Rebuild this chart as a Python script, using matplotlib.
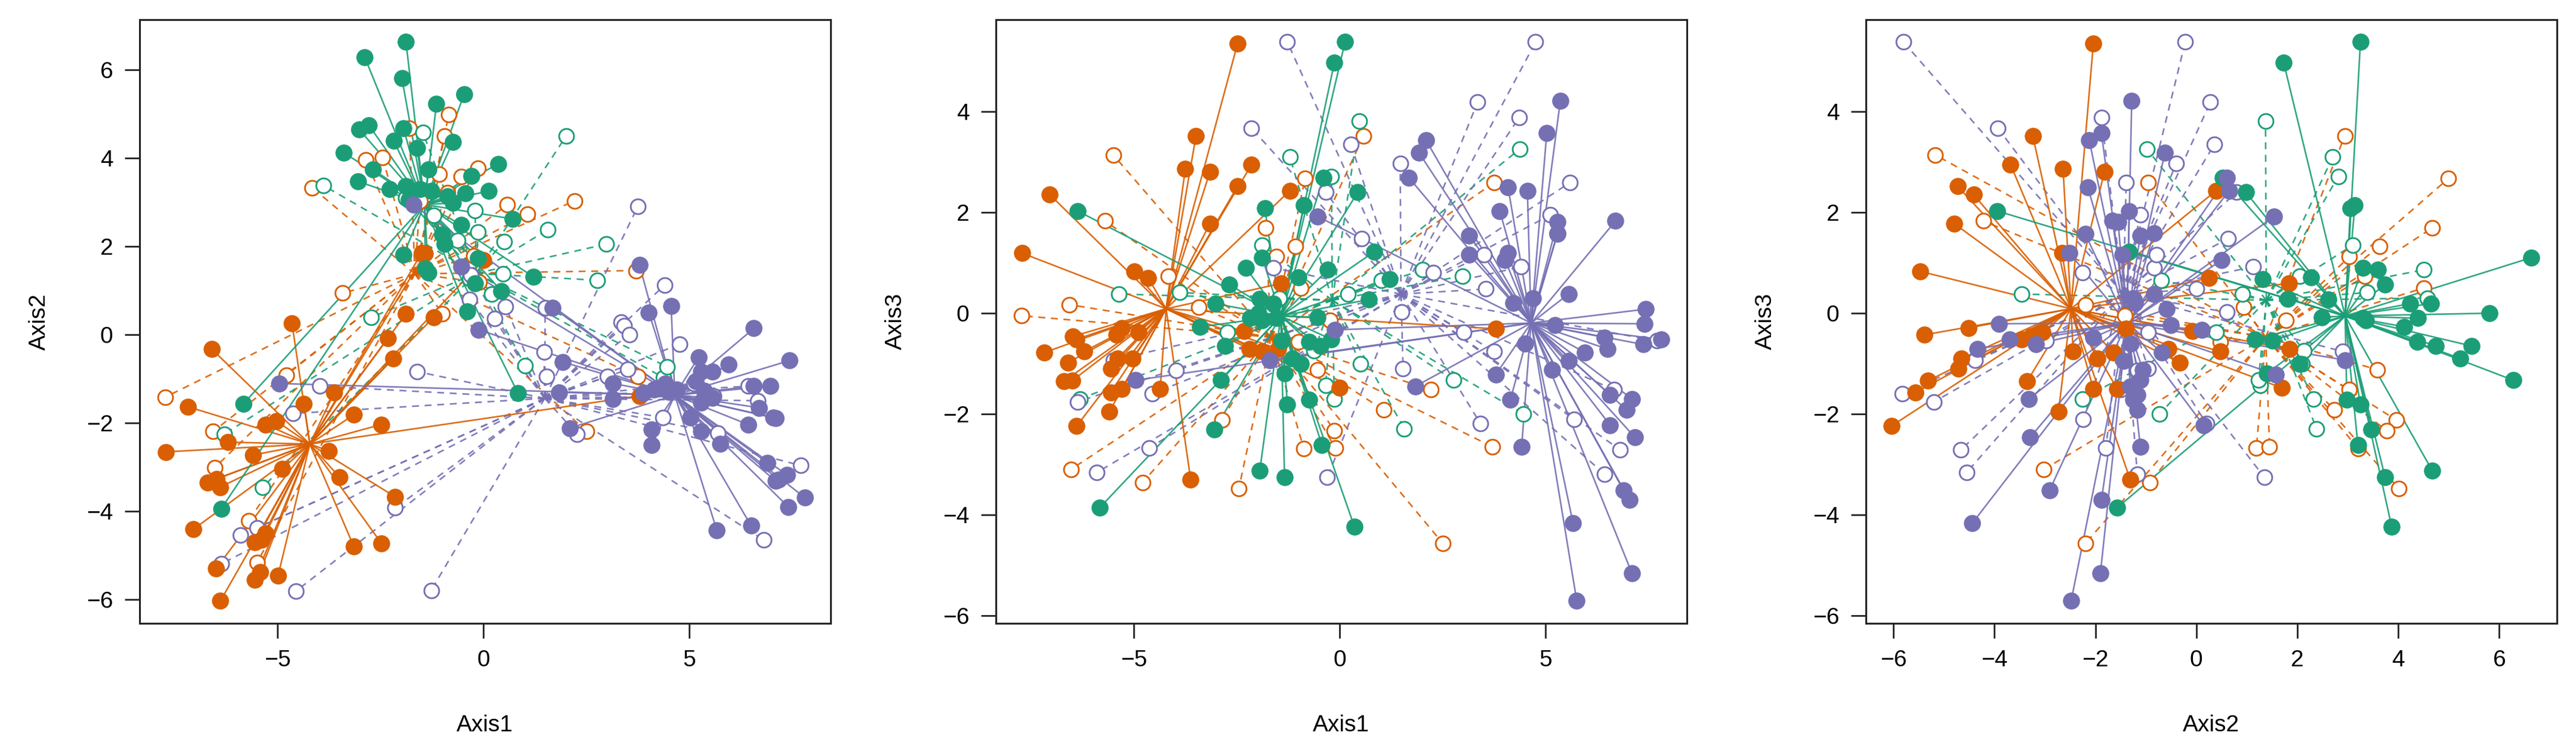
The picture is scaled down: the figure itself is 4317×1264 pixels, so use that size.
import numpy as np
import matplotlib.pyplot as plt

plt.rcParams["font.family"] = ["Liberation Sans", "DejaVu Sans"]

# group colours (Dark2)
col_orange = "#d95f02"
col_green = "#1b9e77"
col_purple = "#7570b3"

# ---- ordination scores, filled points (solid spider lines) ----
orange_filled_ax1 = [-7.71, -7.17, -7.04, -6.70, -6.60, -6.50, -6.48, -6.40, -6.39, -6.21,
                     -5.59, -5.56, -5.56, -5.43, -5.40, -5.29, -5.29, -5.03, -4.99, -4.89,
                     -4.65, -4.36, -3.75, -3.62, -3.49, -3.15, -3.15, -2.48, -2.48, -2.32,
                     -2.19, -2.14, -1.88, -1.50, -1.42, -1.21, 0.00, 3.79]
orange_filled_ax2 = [-2.66, -1.64, -4.41, -3.35, -0.33, -5.31, -3.27, -3.46, -6.04, -2.44,
                     -2.73, -4.71, -5.56, -5.39, -4.65, -4.51, -2.04, -1.96, -5.47, -3.05,
                     0.25, -1.57, -2.64, -1.31, -3.24, -1.82, -4.80, -2.04, -4.73, -0.08,
                     -0.55, -3.68, 0.47, 1.85, 1.83, 0.39, 1.69, -1.39]
orange_filled_ax3 = [1.19, -0.78, 2.35, -1.35, -0.98, -1.34, -0.46, -0.52, -2.24, -0.76,
                     -1.95, -1.10, -1.57, -0.43, -0.90, -0.29, -1.50, -0.90, 0.83, -0.38,
                     0.70, -1.50, 2.86, -3.30, 3.52, 2.81, 1.78, 5.35, 2.52, -0.36,
                     -0.71, 2.95, -0.76, -0.71, 0.59, 2.43, -1.48, -0.31]

green_filled_ax1 = [-6.37, -5.83, -3.39, -3.04, -3.02, -2.88, -2.78, -2.68, -2.28, -2.18,
                    -1.98, -1.94, -1.94, -1.88, -1.88, -1.82, -1.61, -1.54, -1.41, -1.34,
                    -1.34, -1.27, -1.14, -1.00, -0.94, -0.87, -0.74, -0.74, -0.54, -0.47,
                    -0.43, -0.40, -0.29, -0.20, -0.13, 0.13, 0.36, 0.44, 0.71, 0.84, 1.21]
green_filled_ax2 = [-3.95, -1.57, 4.12, 3.47, 4.65, 6.28, 4.74, 3.74, 3.30, 4.39,
                    5.81, 4.67, 1.81, 6.63, 3.36, 3.05, 4.23, 3.30, 1.50, 1.40,
                    3.74, 3.25, 5.23, 2.27, 2.05, 3.14, 4.37, 2.98, 2.49, 5.45,
                    3.20, 0.52, 3.60, 1.16, 1.73, 3.25, 3.87, 0.98, 2.62, -1.33, 1.31]
green_filled_ax3 = [2.03, -3.86, -0.27, -2.31, 0.19, -1.33, -0.65, 0.57, 0.90, -0.10,
                    0.00, -3.12, 0.29, 1.10, -0.14, 2.08, 0.19, -0.10, -0.55, -1.19,
                    -3.26, -1.81, -0.90, 0.71, -1.00, 2.14, -0.57, -1.71, -0.08, -0.65,
                    -2.62, 2.69, 0.86, -0.52, 4.97, 5.38, -4.24, 2.40, 0.27, 1.22, 0.67]

purple_filled_ax1 = [-4.96, -1.70, -0.54, -0.12, 1.68, 1.84, 1.92, 2.10, 3.15, 3.15,
                     3.79, 3.89, 4.02, 4.09, 4.09, 4.15, 4.22, 4.42, 4.50, 4.56,
                     4.70, 5.03, 5.16, 5.23, 5.29, 5.29, 5.29, 5.36, 5.56, 5.56,
                     5.67, 5.76, 5.96, 6.43, 6.50, 6.57, 6.57, 6.70, 6.90, 6.97,
                     7.04, 7.10, 7.10, 7.17, 7.37, 7.41, 7.44, 7.81]
purple_filled_ax2 = [-1.11, 2.94, 1.54, 0.11, 0.61, -1.31, -0.62, -2.12, -1.11, -1.46,
                     1.58, -1.33, 0.50, -2.15, -2.51, -1.25, -1.22, -1.11, -1.30, 0.65,
                     -1.25, -1.88, -1.06, -0.51, -0.84, -1.55, -2.20, -1.28, -0.84, -1.44,
                     -4.44, -2.48, -0.68, -2.04, -4.33, 0.14, -1.17, -1.66, -2.91, -1.17,
                     -1.88, -1.90, -3.32, -3.29, -3.18, -3.91, -0.59, -3.70]
purple_filled_ax3 = [-1.33, -0.93, 1.92, -0.33, 2.69, -1.45, 3.19, 3.43, 1.54, 1.16,
                     -1.22, 2.03, 1.05, 2.50, 1.19, -1.71, 0.20, -2.65, -0.60, 2.43,
                     0.30, 3.57, -1.12, -0.24, 1.59, 1.81, 1.57, 4.21, 0.38, -0.95,
                     -4.17, -5.71, -0.78, -0.48, -0.71, -2.22, -1.62, 1.83, -3.52, -1.92,
                     -3.71, -5.16, -1.70, -2.46, -0.62, -0.21, 0.08, -0.52]

# ---- ordination scores, open points (dashed spider lines) ----
orange_open_ax1 = [-7.73, -6.57, -6.53, -5.70, -5.50, -4.79, -4.16, -3.42, -2.86, -2.45,
                   -1.80, -1.54, -1.07, -1.00, -0.94, -0.87, -0.84, -0.54, -0.23, -0.13,
                   -0.11, 0.58, 1.07, 2.21, 2.51, 3.71, 3.75]
orange_open_ax2 = [-1.42, -2.20, -3.02, -4.22, -5.17, -0.92, 3.33, 0.94, 3.96, 4.01,
                   4.67, 3.03, 3.63, 0.47, 4.50, 3.21, 4.99, 3.58, 1.78, 3.77,
                   1.19, 2.94, 2.73, 3.03, -2.20, 1.45, -0.95]
orange_open_ax3 = [-0.05, 0.17, -3.10, 1.83, 3.14, -3.36, 0.73, 0.12, -2.12, -3.48,
                   1.69, 1.12, 1.33, -0.57, 0.50, -2.69, 2.67, -1.12, -0.14, -2.33,
                   -2.67, 3.52, -1.92, -1.52, -4.57, -2.65, 2.59]

green_open_ax1 = [-6.30, -5.36, -3.89, -2.72, -1.88, -1.47, -1.21, -0.62, -0.34, -0.20,
                  -0.13, 0.20, 0.47, 0.50, 1.01, 1.57, 2.01, 2.77, 2.99, 4.38, 4.46]
green_open_ax2 = [-2.26, -3.46, 3.38, 0.39, 3.10, 4.58, 2.70, 2.13, 1.27, 2.81,
                  2.32, 0.91, 1.37, 2.10, -0.70, 2.38, 4.50, 1.23, 2.05, -0.98, -0.73]
green_open_ax3 = [-1.70, 0.38, 0.41, -0.38, 1.35, 0.30, 3.10, -0.75, -1.43, 2.71,
                  -1.70, 0.38, 3.81, -1.00, 0.65, -2.29, 0.86, -1.33, 0.74, 3.26, -2.00]

purple_open_ax1 = [-6.37, -5.90, -5.50, -4.62, -4.56, -3.98, -2.14, -1.61, -1.27, -0.34,
                   -0.30, 0.27, 0.54, 1.47, 1.50, 1.54, 2.28, 3.02, 3.35, 3.42,
                   3.51, 3.55, 3.75, 4.36, 4.40, 4.76, 5.12, 5.59, 5.70, 6.43,
                   6.66, 6.81, 7.71]
purple_open_ax2 = [-5.20, -4.55, -4.38, -1.79, -5.82, -1.17, -3.93, -0.84, -5.80, 0.80,
                   1.35, 0.36, 0.63, -0.40, 0.60, -0.95, -2.26, -0.95, 0.28, 0.20,
                   -0.79, 0.00, 2.90, -1.88, 1.12, -0.22, -1.11, -1.39, -2.24, -1.17,
                   -1.50, -4.66, -2.97]
purple_open_ax3 = [-1.76, -3.16, -0.93, -2.67, -1.60, -1.14, 3.67, 0.90, 5.38, 2.40,
                   -3.26, 3.35, 1.48, 2.97, 0.02, -1.10, 0.81, -0.38, 4.19, -2.19,
                   1.16, 0.48, -0.76, 3.88, 0.92, 5.38, 1.95, 2.59, -2.11, -3.19,
                   -1.52, -2.71, -0.55]

filled = [
    (col_orange, [orange_filled_ax1, orange_filled_ax2, orange_filled_ax3]),
    (col_green, [green_filled_ax1, green_filled_ax2, green_filled_ax3]),
    (col_purple, [purple_filled_ax1, purple_filled_ax2, purple_filled_ax3]),
]
opened = [
    (col_orange, [orange_open_ax1, orange_open_ax2, orange_open_ax3]),
    (col_green, [green_open_ax1, green_open_ax2, green_open_ax3]),
    (col_purple, [purple_open_ax1, purple_open_ax2, purple_open_ax3]),
]

axis_names = ["Axis1", "Axis2", "Axis3"]
panels = [(0, 1), (0, 2), (1, 2)]
lefts = [0.0542, 0.3866, 0.7243]
xticks = {0: [-5, 0, 5], 1: [-6, -4, -2, 0, 2, 4, 6]}
yticks = {1: [-6, -4, -2, 0, 2, 4, 6], 2: [-6, -4, -2, 0, 2, 4]}


def data_range(k):
    vals = []
    for _, arrs in filled + opened:
        vals += list(arrs[k])
    lo, hi = min(vals), max(vals)
    pad = 0.04 * (hi - lo)
    return lo - pad, hi + pad


fig = plt.figure(figsize=(43.17, 12.64), dpi=100)

for p, (i, j) in enumerate(panels):
    ax = fig.add_axes([lefts[p], 0.1733, 0.2682, 0.8006])

    # spider lines from each point to its group centroid
    for col, arrs in opened:
        x = np.array(arrs[i]); y = np.array(arrs[j])
        cx, cy = x.mean(), y.mean()
        for xx, yy in zip(x, y):
            ax.plot([cx, xx], [cy, yy], color=col, lw=1.9, alpha=0.9,
                    dashes=(4.4, 3.6), zorder=1)
    for col, arrs in filled:
        x = np.array(arrs[i]); y = np.array(arrs[j])
        cx, cy = x.mean(), y.mean()
        for xx, yy in zip(x, y):
            ax.plot([cx, xx], [cy, yy], color=col, lw=1.9, alpha=0.9, zorder=2)

    # points
    for col, arrs in opened:
        ax.scatter(arrs[i], arrs[j], s=320, facecolors="white", edgecolors=col,
                   linewidths=2.1, zorder=3)
    for col, arrs in filled:
        ax.scatter(arrs[i], arrs[j], s=390, color=col, edgecolors=col,
                   linewidths=0.8, zorder=4)

    ax.set_xlim(*data_range(i))
    ax.set_ylim(*data_range(j))
    ax.set_xticks(xticks[i])
    ax.set_yticks(yticks[j])
    ax.tick_params(length=18, width=2, labelsize=28, pad=14, color="#222222")
    for s in ax.spines.values():
        s.set_linewidth(2.2)
        s.set_color("#222222")
    ax.set_xlabel(axis_names[i], fontsize=28, va="center")
    ax.set_ylabel(axis_names[j], fontsize=28, va="center")
    ax.xaxis.set_label_coords(0.5, -0.169)
    ax.yaxis.set_label_coords(-0.145, 0.5)

fig.savefig("out.png", dpi=100)
plt.close()
